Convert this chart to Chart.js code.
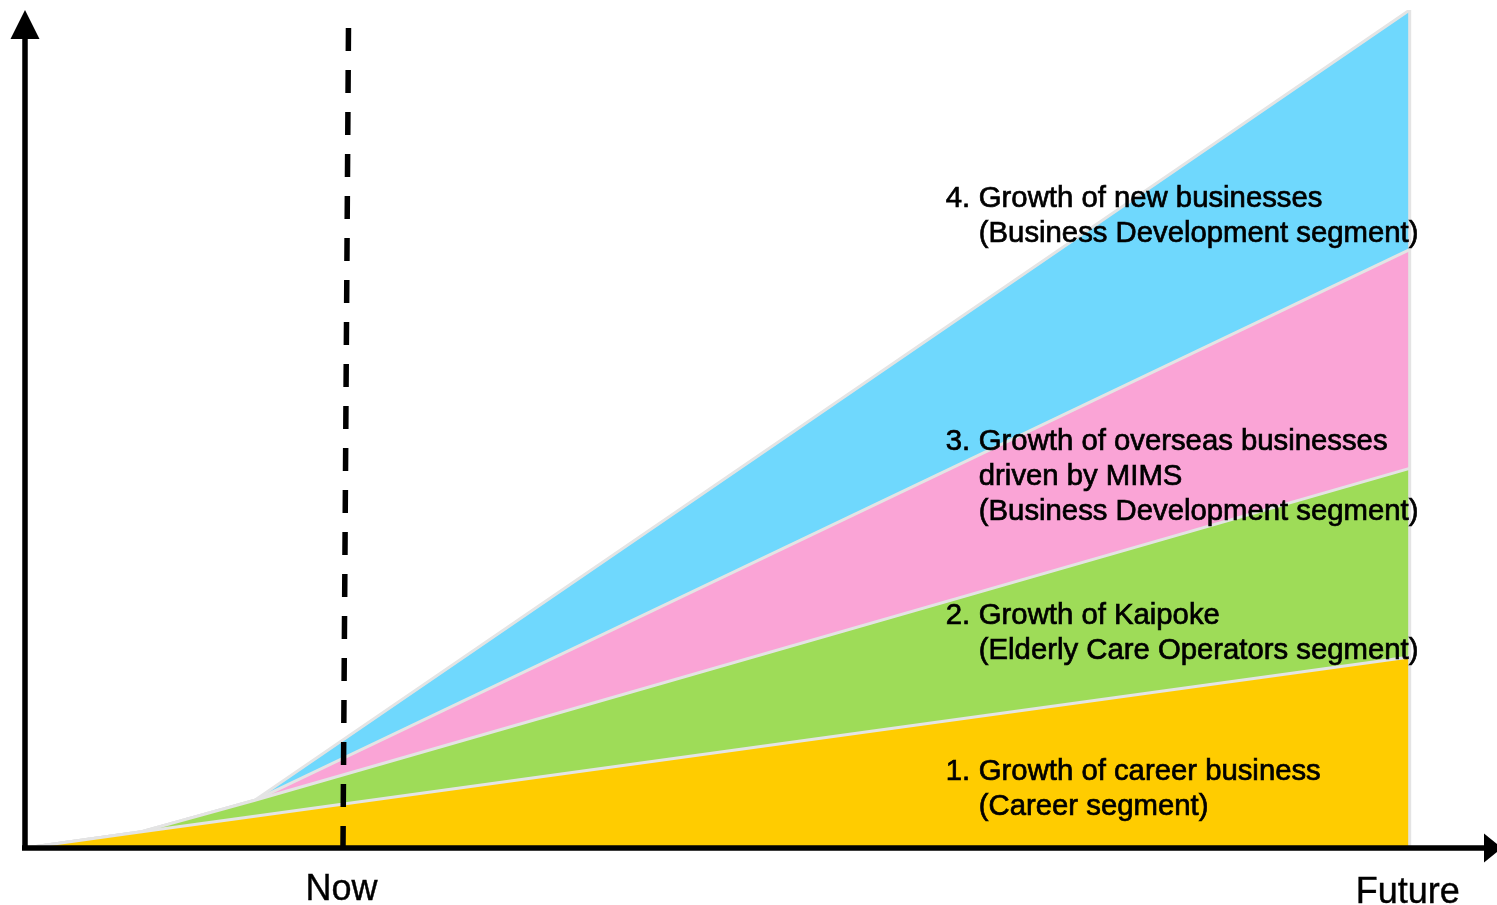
<!DOCTYPE html>
<html>
<head>
<meta charset="utf-8">
<script src="https://cdn.jsdelivr.net/npm/chart.js@4.4.1/dist/chart.umd.min.js"></script>
<style>
  body { margin: 0; background: #fff; }
  #wrap { width: 1497px; height: 905px; }
</style>
</head>
<body>
<div id="wrap"><canvas id="growth_chart" width="1497" height="905"></canvas></div>
<script>
// time axis (arbitrary units), 0 = start, 100 = future
const periods = [0, 8.3, 16.6, 100]
// layer thickness per period (stacked)
const career   = [0, 1.9, 3.8, 22.8]
const kaipoke  = [0, 0,   1.9, 22.5]
const overseas = [0, 0,   0,   26.1]
const newBiz   = [0, 0,   0,   28.6]

const cores = ['#ffcc00', '#9edc58', '#faa4d6', '#6fd8fd']
const edge = '#e4e4e4'

const milestones = ['Now', 'Future']
const milestoneAt = [23, 100]

const segNums = ['1.', '2.', '3.', '4.']
const segLines = [
  ['Growth of career business', '(Career segment)'],
  ['Growth of Kaipoke', '(Elderly Care Operators segment)'],
  ['Growth of overseas businesses', 'driven by MIMS', '(Business Development segment)'],
  ['Growth of new businesses', '(Business Development segment)']
]
const segLabelY = [9.1, 27.7, 48.4, 77.4]  // first line, in y units
const segLabelX = 66.5

const FONT = '"Liberation Sans", Arial, Helvetica, sans-serif'

function pts(arr) {
  return arr.map((v, i) => ({x: periods[i], y: v}))
}

// fill + thin stroke, the original text is a bit heavier
function heavyText(ctx, t, x, y) {
  ctx.fillText(t, x, y)
  ctx.strokeText(t, x, y)
}

const drawing = {
  id: 'drawing',
  afterDatasetsDraw(chart) {
    const {ctx, scales: {x, y}} = chart
    const x0 = x.getPixelForValue(0), y0 = y.getPixelForValue(0)
    const xEnd = x.getPixelForValue(periods[periods.length - 1])
    const top = y.getPixelForValue(100)

    ctx.save()
    // right edge of the areas
    ctx.strokeStyle = edge
    ctx.lineWidth = 3
    ctx.beginPath()
    ctx.moveTo(xEnd, top)
    ctx.lineTo(xEnd, y0)
    ctx.stroke()

    // dashed "now" line
    const xn = x.getPixelForValue(milestoneAt[0])
    ctx.strokeStyle = '#000'
    ctx.lineWidth = 5.5
    ctx.setLineDash([23, 19])
    ctx.beginPath()
    ctx.moveTo(xn + 5, 28)
    ctx.lineTo(xn - 0.5, y0 + 2)
    ctx.stroke()
    ctx.setLineDash([])

    // axes with arrows
    ctx.fillStyle = '#000'
    ctx.lineWidth = 5.5
    ctx.beginPath()
    ctx.moveTo(x0 - 3, y0)
    ctx.lineTo(1486, y0)
    ctx.moveTo(x0, y0 + 2)
    ctx.lineTo(x0, 38)
    ctx.stroke()
    ctx.beginPath()
    ctx.moveTo(1484, y0 - 14.5)
    ctx.lineTo(1502, y0)
    ctx.lineTo(1484, y0 + 14.5)
    ctx.closePath()
    ctx.fill()
    ctx.beginPath()
    ctx.moveTo(x0 - 14.5, 39)
    ctx.lineTo(x0, 10)
    ctx.lineTo(x0 + 14.5, 39)
    ctx.closePath()
    ctx.fill()

    // milestone labels
    ctx.font = '36px ' + FONT
    ctx.textAlign = 'center'
    ctx.textBaseline = 'middle'
    ctx.lineWidth = 0.4
    milestones.forEach((m, i) => {
      heavyText(ctx, m, x.getPixelForValue(milestoneAt[i]) - 2, 890 + i * 3)
    })

    // segment labels
    ctx.font = '29.3px ' + FONT
    ctx.textAlign = 'left'
    ctx.lineWidth = 0.7
    const lx = x.getPixelForValue(segLabelX)
    segNums.forEach((n, i) => {
      const ly = y.getPixelForValue(segLabelY[i])
      heavyText(ctx, n, lx, ly)
      segLines[i].forEach((t, j) => {
        heavyText(ctx, t, lx + 33, ly + j * 35)
      })
    })
    ctx.restore()
  }
}

const ctx = document.getElementById('growth_chart')
const names = ['Career', 'Kaipoke', 'Overseas', 'New businesses']
const series = [career, kaipoke, overseas, newBiz]

new Chart(ctx, {
  type: 'line',
  data: {
    datasets: series.map((s, i) => ({
      label: names[i],
      data: pts(s),
      fill: i === 0 ? 'origin' : '-1',
      backgroundColor: cores[i],
      borderColor: edge,
      borderWidth: 3,
      pointRadius: 0,
      tension: 0
    }))
  },
  options: {
    responsive: false,
    animation: false,
    layout: { padding: { left: 25, top: 10, right: 7, bottom: 57 } },
    plugins: { legend: { display: false }, tooltip: { enabled: false } },
    scales: {
      x: { type: 'linear', min: 0, max: 105.8, display: false },
      y: { stacked: true, min: 0, max: 100, display: false }
    }
  },
  plugins: [drawing]
})
</script>
</body>
</html>
